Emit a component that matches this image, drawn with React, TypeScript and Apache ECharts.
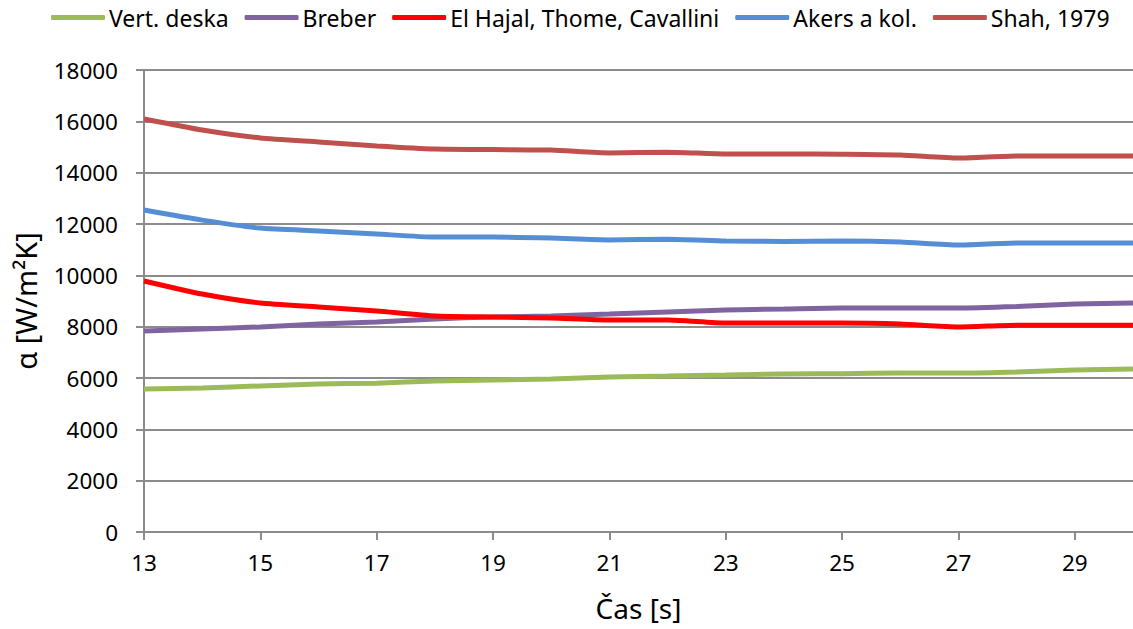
import React, { useEffect, useRef } from "react";
import * as echarts from "echarts";

const times = [13, 14, 15, 16, 17, 18, 19, 20, 21, 22, 23, 24, 25, 26, 27, 28, 29, 30];
const vertDeska = [5570, 5610, 5690, 5770, 5800, 5880, 5920, 5960, 6040, 6080, 6120, 6160, 6170, 6190, 6190, 6230, 6310, 6350];
const breber = [7830, 7910, 7990, 8100, 8180, 8300, 8380, 8415, 8490, 8570, 8650, 8690, 8730, 8730, 8730, 8790, 8880, 8920];
const elHajal = [9780, 9270, 8920, 8770, 8610, 8415, 8380, 8340, 8260, 8260, 8140, 8140, 8140, 8100, 7990, 8060, 8060, 8060];
const akers = [12545, 12150, 11840, 11730, 11610, 11490, 11490, 11450, 11380, 11410, 11340, 11320, 11340, 11300, 11180, 11260, 11260, 11260];
const shah = [16090, 15660, 15350, 15195, 15040, 14920, 14900, 14880, 14770, 14800, 14730, 14730, 14720, 14690, 14570, 14650, 14650, 14650];

const seriesNames = ["Vert. deska", "Breber", "El Hajal, Thome, Cavallini", "Akers a kol.", "Shah, 1979"];
const seriesData = [vertDeska, breber, elHajal, akers, shah];
const colors = ["#9BBB59", "#8064A2", "#FF0000", "#558ED5", "#C0504D"];

const FONT = "Noto Sans";
const GREY = "#8c8c8c";

export default function App() {
  const ref = useRef<HTMLDivElement>(null);
  useEffect(() => {
    if (!ref.current) return;
    const chart = echarts.init(ref.current, null, { renderer: "svg" });
    chart.setOption({
      animation: false,
      backgroundColor: "#ffffff",
      legend: {
        top: 1,
        left: 46,
        itemWidth: 54,
        itemHeight: 5,
        itemGap: 16,
        icon: "roundRect",
        textStyle: { fontFamily: FONT, fontSize: 23, color: "#000", padding: [0, 0, 0, -1] },
        data: seriesNames,
      },
      grid: { left: 144, right: -5, top: 70, bottom: 97 },
      xAxis: {
        type: "value",
        min: 13,
        max: 30,
        interval: 2,
        name: "Čas [s]",
        nameLocation: "middle",
        nameGap: 62,
        nameTextStyle: { fontFamily: FONT, fontSize: 28, color: "#000" },
        axisLine: { show: true, lineStyle: { color: GREY, width: 2 } },
        axisTick: { show: true, length: 8, lineStyle: { color: GREY, width: 2 } },
        axisLabel: { fontFamily: FONT, fontSize: 22.5, color: "#000", margin: 19, showMaxLabel: false },
        splitLine: { show: false },
      },
      yAxis: {
        type: "value",
        min: 0,
        max: 18000,
        interval: 2000,
        name: "α [W/m²K]",
        nameLocation: "middle",
        nameGap: 104,
        nameRotate: 90,
        nameTextStyle: { fontFamily: FONT, fontSize: 29, color: "#000" },
        axisLine: { show: true, lineStyle: { color: GREY, width: 2 } },
        axisTick: { show: true, length: 8, lineStyle: { color: GREY, width: 2 } },
        axisLabel: {
          fontFamily: FONT,
          fontSize: 22.5,
          color: "#000",
          margin: 26,
          formatter: (v: number) => String(v),
        },
        splitLine: { show: true, lineStyle: { color: GREY, width: 2 } },
      },
      series: seriesNames.map((name, i) => ({
        name,
        type: "line",
        data: times.map((t, j) => [t, seriesData[i][j]]),
        showSymbol: false,
        symbol: "none",
        smooth: 0.2,
        color: colors[i],
        lineStyle: { color: colors[i], width: 5 },
      })),
    });
    return () => chart.dispose();
  }, []);
  return <div ref={ref} style={{ width: 1133, height: 629, position: "absolute", left: 0, top: 0 }} />;
}
